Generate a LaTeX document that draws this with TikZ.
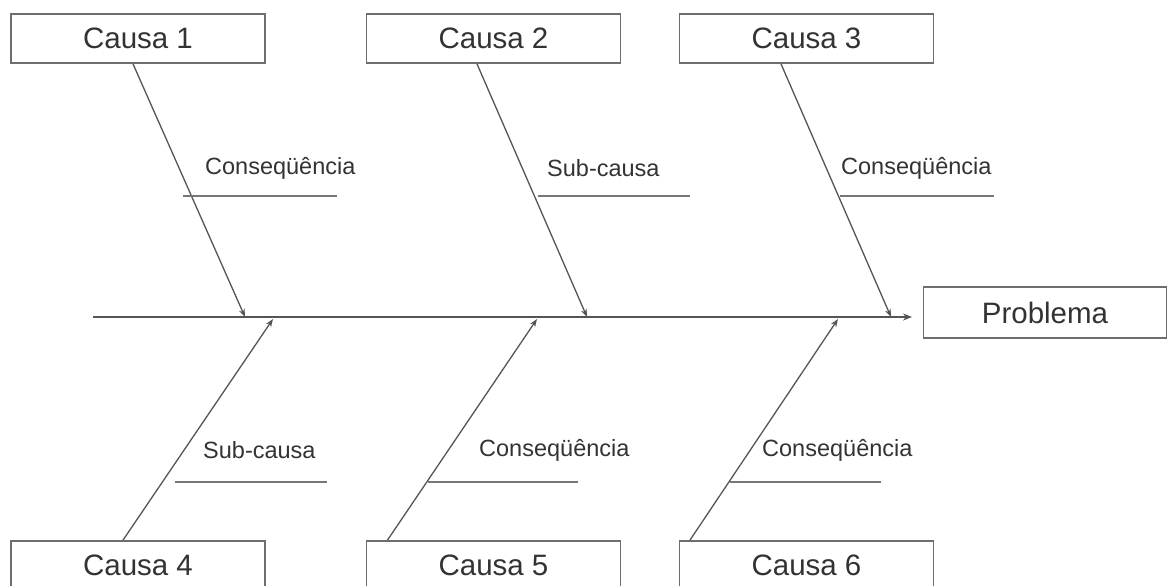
\documentclass[tikz,border=0pt]{standalone}
\usepackage{fontspec}
\setmainfont{Liberation Sans}
\usetikzlibrary{arrows.meta}
\definecolor{linegray}{HTML}{555555}
\definecolor{boxgray}{HTML}{6E6E6E}
\definecolor{txtgray}{HTML}{333333}
\tikzset{
  causebox/.style={draw=boxgray, line width=1.8pt, minimum width=254pt, minimum height=49pt,
    inner sep=0pt, text=txtgray, font=\fontsize{29.5}{34}\selectfont},
  probbox/.style={draw=boxgray, line width=1.8pt, minimum width=243pt, minimum height=51pt,
    inner sep=0pt, text=txtgray, font=\fontsize{29.5}{34}\selectfont},
  bone/.style={draw=linegray, line width=1.3pt, -{Stealth[length=8pt,width=6pt]}},
  spine/.style={draw=linegray, line width=1.5pt, -{Stealth[length=9pt,width=7pt]}},
  subline/.style={draw=linegray!80, line width=1.3pt},
  sublabel/.style={anchor=west, inner sep=0pt, text=txtgray, font=\fontsize{23.5}{28}\selectfont}
}
\begin{document}
\begin{tikzpicture}[x=1pt,y=-1pt]
\useasboundingbox (0,0) rectangle (1167,586);
\clip (0,0) rectangle (1167,586);
\fill[white] (0,0) rectangle (1167,586);

% boxes
\node[causebox] (c1) at (138,38.5) {Causa 1};
\node[causebox] (c2) at (493.5,38.5) {Causa 2};
\node[causebox] (c3) at (806.5,38.5) {Causa 3};
\node[causebox] (c4) at (138,565.5) {Causa 4};
\node[causebox] (c5) at (493.5,565.5) {Causa 5};
\node[causebox] (c6) at (806.5,565.5) {Causa 6};
\node[probbox] (prob) at (1045,312.5) {Problema};

% spine
\coordinate (m0) at (93,317);
\coordinate (mend) at (912,317);
\draw[spine] (m0) -- (mend);

% tips on the spine
\coordinate (t1) at (245,317);
\coordinate (t2) at (587,317);
\coordinate (t3) at (891,317);
\coordinate (t4) at (273,319);
\coordinate (t5) at (537,319);
\coordinate (t6) at (838,319);

\draw[bone] ([xshift=-5pt]c1.south) -- (t1);
\draw[bone] ([xshift=-16.5pt]c2.south) -- (t2);
\draw[bone] ([xshift=-25.5pt]c3.south) -- (t3);
\draw[bone] ([xshift=-15pt]c4.north) -- (t4);
\draw[bone] ([xshift=-106pt]c5.north) -- (t5);
\draw[bone] ([xshift=-116.5pt]c6.north) -- (t6);

% sub-bones
\coordinate (s1a) at (183,196); \coordinate (s1b) at (337,196);
\coordinate (s2a) at (538,196); \coordinate (s2b) at (690,196);
\coordinate (s3a) at (840,196); \coordinate (s3b) at (994,196);
\coordinate (s4a) at (175,482); \coordinate (s4b) at (327,482);
\coordinate (s5a) at (428,482); \coordinate (s5b) at (578,482);
\coordinate (s6a) at (730,482); \coordinate (s6b) at (881,482);
\draw[subline] (s1a) -- (s1b);
\draw[subline] (s2a) -- (s2b);
\draw[subline] (s3a) -- (s3b);
\draw[subline] (s4a) -- (s4b);
\draw[subline] (s5a) -- (s5b);
\draw[subline] (s6a) -- (s6b);

% labels
\node[sublabel] (l1) at (205,168) {Conseqüência};
\node[sublabel] (l2) at (547,168) {Sub-causa};
\node[sublabel] (l3) at (841,168) {Conseqüência};
\node[sublabel] (l4) at (203,450) {Sub-causa};
\node[sublabel] (l5) at (479,450) {Conseqüência};
\node[sublabel] (l6) at (762,450) {Conseqüência};
\end{tikzpicture}
\end{document}
